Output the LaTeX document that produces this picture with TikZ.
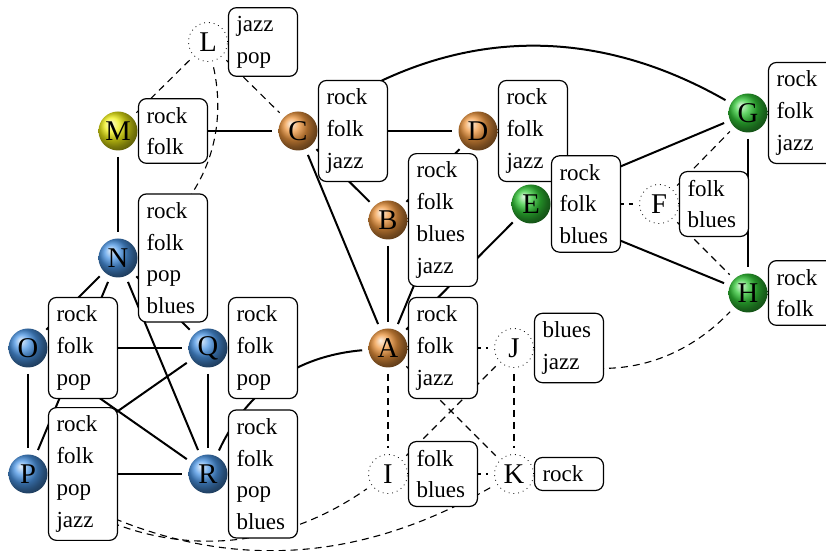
\documentclass[tikz,border=0pt]{standalone}
\usepackage{fontspec}
\setmainfont{Liberation Serif}
\definecolor{ballorange}{RGB}{238,150,62}
\definecolor{ballyellow}{RGB}{240,240,20}
\definecolor{ballgreen}{RGB}{50,200,55}
\definecolor{ballblue}{RGB}{75,150,230}
\newcommand\tagfont{\fontsize{11.5}{15.85}\selectfont}
\newcommand\vtxfont{\fontsize{14.3}{16}\selectfont}
\begin{document}
\begin{tikzpicture}[x=0.5pt,y=0.5pt,
  vtx/.style={circle, minimum size=19.5pt, inner sep=0pt, font=\vtxfont, shading=ball, ball color=#1},
  ghost/.style={circle, minimum size=19.5pt, inner sep=0pt, font=\vtxfont, draw, dotted, line width=0.4pt},
  tags/.style={draw, line width=0.6pt, rounded corners=4pt, fill=white, align=left, text width=26.5pt,
     inner xsep=4pt, inner ysep=4.2pt, anchor=west, font=\tagfont},
  link/.style={line width=1pt, shorten <=3pt, shorten >=3pt},
  weak/.style={line width=0.55pt, dash pattern=on 3.5pt off 2.5pt, shorten <=3pt, shorten >=3pt}]
\useasboundingbox (0,0) rectangle (826,551);
\clip (0,0) rectangle (826,551);
% vertices
\node[ghost] (L) at (208,509) {L};
\node[vtx=ballyellow] (M) at (118,420) {M};
\node[vtx=ballorange] (C) at (298,420) {C};
\node[vtx=ballorange] (D) at (478,420) {D};
\node[vtx=ballorange] (B) at (388,331) {B};
\node[vtx=ballgreen] (E) at (531,347) {E};
\node[ghost] (F) at (659,347) {F};
\node[vtx=ballgreen] (G) at (748,438) {G};
\node[vtx=ballgreen] (H) at (748,258) {H};
\node[vtx=ballblue] (N) at (118,293) {N};
\node[vtx=ballblue] (O) at (28,203) {O};
\node[vtx=ballblue] (Q) at (208,203) {Q};
\node[vtx=ballorange] (A) at (388,203) {A};
\node[ghost] (J) at (514,203) {J};
\node[vtx=ballblue] (P) at (28,77) {P};
\node[vtx=ballblue] (R) at (208,77) {R};
\node[ghost] (I) at (388,77) {I};
\node[ghost] (K) at (514,77) {K};
% solid edges
\draw[link] (M) -- (N);
\draw[link] (M) -- (C);
\draw[link] (C) -- (D);
\draw[link] (C) to[bend left=32] (G);
\draw[link] (C) -- (B);
\draw[link] (C) -- (A);
\draw[link] (B) -- (A);
\draw[link] (D) -- (B);
\draw[link] (D) -- (A);
\draw[link] (A) -- (E);
\draw[link] (E) -- (G);
\draw[link] (E) -- (H);
\draw[link] (G) -- (H);
\draw[link] (R) to[bend left=30] (A);
\draw[link] (Q) -- (R);
\draw[link] (O) -- (Q);
\draw[link] (P) -- (R);
\draw[link] (O) -- (P);
\draw[link] (O) -- (R);
\draw[link] (P) -- (Q);
\draw[link] (N) -- (R);
\draw[link] (N) -- (O);
\draw[link] (N) -- (P);
\draw[link] (N) -- (Q);
% dashed edges
\draw[weak] (L) -- (M);
\draw[weak] (L) -- (C);
\draw[weak] (L) to[bend left=35] (N);
\draw[weak] (E) -- (F);
\draw[weak] (F) -- (G);
\draw[weak] (F) -- (H);
\draw[weak] (A) -- (J);
\draw[weak] (A) -- (I);
\draw[weak] (J) -- (K);
\draw[weak] (I) -- (K);
\draw[weak] (A) -- (K);
\draw[weak] (I) -- (J);
\draw[weak] (J) to[bend right=33] (H);
\draw[weak] (P) to[bend right=35] (I);
\draw[weak] (P) to[bend right=30] (K);
% tag boxes
\node[tags] (tL) at (L.east) {jazz\\pop};
\node[tags] (tM) at (M.east) {rock\\folk};
\node[tags] (tC) at (C.east) {rock\\folk\\jazz};
\node[tags] (tD) at (D.east) {rock\\folk\\jazz};
\node[tags] (tB) at (B.east) {rock\\folk\\blues\\jazz};
\node[tags] (tE) at (E.east) {rock\\folk\\blues};
\node[tags] (tF) at (F.east) {folk\\blues};
\node[tags] (tG) at (G.east) {rock\\folk\\jazz};
\node[tags] (tH) at (H.east) {rock\\folk};
\node[tags] (tN) at (N.east) {rock\\folk\\pop\\blues};
\node[tags] (tO) at (O.east) {rock\\folk\\pop};
\node[tags] (tQ) at (Q.east) {rock\\folk\\pop};
\node[tags] (tA) at (A.east) {rock\\folk\\jazz};
\node[tags] (tJ) at (J.east) {blues\\jazz};
\node[tags] (tP) at (P.east) {rock\\folk\\pop\\jazz};
\node[tags] (tR) at (R.east) {rock\\folk\\pop\\blues};
\node[tags] (tI) at (I.east) {folk\\blues};
\node[tags] (tK) at (K.east) {rock};
\end{tikzpicture}
\end{document}
